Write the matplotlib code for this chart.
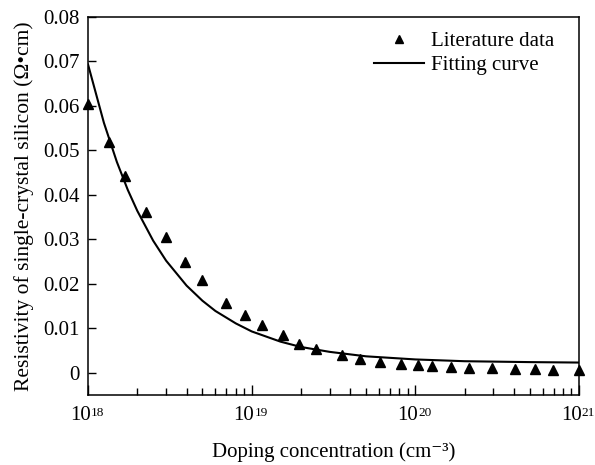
import matplotlib.pyplot as plt

plt.rcParams['font.family'] = ['Liberation Serif', 'DejaVu Serif']

# literature data
lit_conc = [1.0e18, 1.34e18, 1.68e18, 2.26e18, 2.99e18, 3.9e18, 4.97e18, 6.96e18,
            9.1e18, 1.16e19, 1.55e19, 1.94e19, 2.47e19, 3.56e19, 4.59e19, 6.08e19,
            8.17e19, 1.04e20, 1.26e20, 1.65e20, 2.12e20, 2.94e20, 4.06e20, 5.38e20,
            6.92e20, 1.0e21]
lit_rho = [0.0605, 0.0519, 0.0442, 0.0361, 0.0305, 0.0248, 0.0208, 0.0156,
           0.0131, 0.0108, 0.0084, 0.0065, 0.0054, 0.0041, 0.0032, 0.0025,
           0.0020, 0.0018, 0.0016, 0.0014, 0.0011, 0.0010, 0.0009, 0.0008,
           0.0007, 0.0007]

# fitting curve, points
fit_conc = [1e18, 1.25e18, 1.5e18, 1.75e18, 2e18, 2.5e18, 3e18, 4e18, 5e18, 6e18,
            8e18, 1e19, 1.5e19, 2e19, 3e19, 5e19, 1e20, 2e20, 5e20, 1e21]
fit_rho = [0.0693, 0.0562, 0.0474, 0.0411, 0.0364, 0.0297, 0.0252, 0.0196, 0.0162,
           0.0139, 0.0111, 0.0093, 0.0070, 0.0058, 0.0047, 0.0037, 0.0030, 0.0026,
           0.0024, 0.0023]

x_ticks = [1e18, 1e19, 1e20, 1e21]
x_exps = ['18', '19', '20', '21']
y_ticks = [0, 0.01, 0.02, 0.03, 0.04, 0.05, 0.06, 0.07, 0.08]
y_labels = ['0', '0.01', '0.02', '0.03', '0.04', '0.05', '0.06', '0.07', '0.08']

fig = plt.figure(figsize=(5.95, 4.65), dpi=100)
ax = fig.add_axes([0.148, 0.1505, 0.825, 0.813])

ax.plot(lit_conc, lit_rho, linestyle='none', marker='^', color='black',
        markersize=7.5, label='Literature data', clip_on=False, zorder=3)
ax.plot(fit_conc, fit_rho, color='black', linewidth=1.5, label='Fitting curve')

ax.set_xscale('log')
ax.set_xlim(1e18, 1e21)
ax.set_ylim(-0.005, 0.08)
ax.set_xticks(x_ticks)
ax.set_yticks(y_ticks)
ax.set_yticklabels(y_labels)

ax.tick_params(axis='both', which='both', direction='in', labelsize=15,
               top=False, right=False)
ax.tick_params(axis='x', which='both', labelbottom=False)
ax.tick_params(axis='x', which='major', length=7, width=1)
ax.tick_params(axis='x', which='minor', length=5, width=1)
ax.tick_params(axis='y', which='major', length=6, width=1, pad=6)
for s in ax.spines.values():
    s.set_linewidth(1.1)

# "10" with a small raised exponent under each decade
for xt, ex in zip(x_ticks, x_exps):
    ax.annotate('10', xy=(xt, 0), xycoords=('data', 'axes fraction'),
                xytext=(1.8, -18), textcoords='offset points',
                ha='right', va='baseline', fontsize=15, annotation_clip=False)
    ax.annotate(ex, xy=(xt, 0), xycoords=('data', 'axes fraction'),
                xytext=(2.0, -15.2), textcoords='offset points',
                ha='left', va='baseline', fontsize=9.5, annotation_clip=False)

ax.set_xlabel('Doping concentration (cm\u207b\u00b3)', fontsize=15)
ax.xaxis.set_label_coords(0.5, -0.125)
ax.set_ylabel('Resistivity of single-crystal silicon (\u03a9\u2022cm)', fontsize=15.5, labelpad=7)

ax.legend(loc='upper right', frameon=False, fontsize=15, handlelength=2.4,
          markerscale=0.8, borderaxespad=0.3, handletextpad=0.35,
          labelspacing=0.2, bbox_to_anchor=(0.98, 1.0))

fig.savefig('out.png', dpi=100)
